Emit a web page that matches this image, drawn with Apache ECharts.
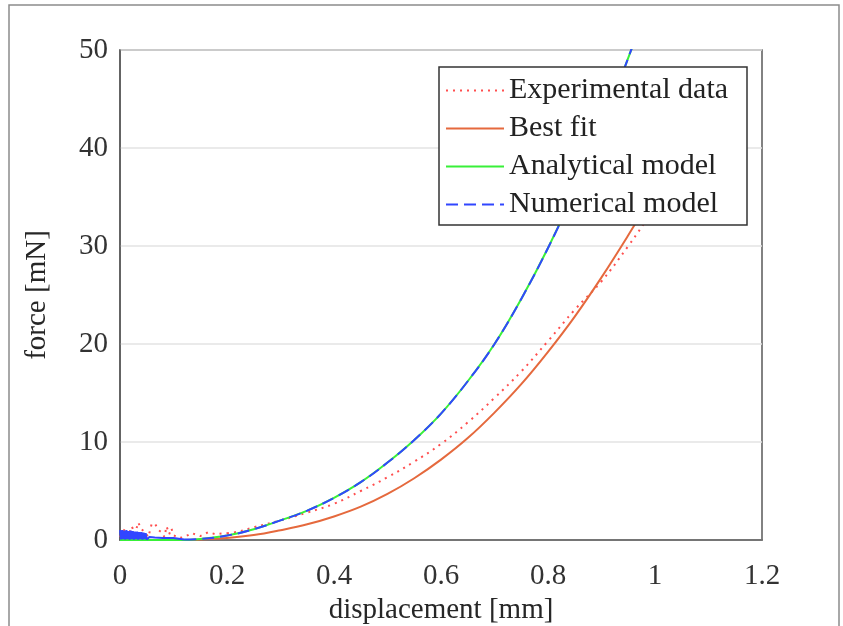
<!DOCTYPE html>
<html>
<head>
<meta charset="utf-8">
<title>force vs displacement</title>
<script src="https://cdn.jsdelivr.net/npm/echarts@6/dist/echarts.min.js"></script>
<style>
  html, body { margin: 0; padding: 0; background: #fff; }
  #chart { width: 843px; height: 626px; }
</style>
</head>
<body>
<div id="chart"></div>
<script>
  // experimental data, noisy part near zero
  const expNoiseX = [0, 0.005, 0.009, 0.015, 0.022, 0.028, 0.034, 0.04, 0.047, 0.053, 0.059, 0.065, 0.072,
    0.078, 0.083, 0.087, 0.092, 0.096, 0.1, 0.11, 0.12, 0.134, 0.15, 0.165, 0.178, 0.2]
  const expNoiseY = [0.3, 0.8, 1.1, 0.4, 1.4, 0.6, 1.8, 1.1, 0.8, 0.3, 1.6, 1.7, 1.0,
    0.8, 0.3, 1.4, 0.6, 1.2, 0.5, 0.2, 0.3, 0.7, 0.4, 0.8, 0.6, 0.7]
  // experimental data, smooth rise
  const expX = [0.2, 0.221, 0.25, 0.3, 0.35, 0.4, 0.45, 0.5, 0.55, 0.6, 0.65, 0.7, 0.75, 0.8, 0.85,
    0.9, 0.95, 1.0, 1.05]
  const expY = [0.7, 0.85, 1.3, 2.0, 2.8, 3.7, 5.0, 6.4, 8.0, 9.8, 12.0, 14.5, 17.2, 20.3, 23.5,
    26.4, 30.0, 33.9, 37.8]

  const fitX = [0.13, 0.15, 0.2, 0.25, 0.3, 0.35, 0.4, 0.45, 0.5, 0.55, 0.6, 0.65, 0.7, 0.75, 0.8, 0.85,
    0.9, 0.95, 1.0, 1.05, 1.1]
  const fitY = [0, 0.05, 0.2, 0.5, 1.0, 1.6, 2.4, 3.4, 4.7, 6.3, 8.2, 10.4, 13.0, 15.9, 19.2, 22.8,
    26.8, 31.1, 35.6, 40.5, 45.8]

  const anaX = [0, 0.05, 0.1, 0.12, 0.15, 0.2, 0.25, 0.3, 0.35, 0.4, 0.45, 0.5, 0.55, 0.6, 0.65, 0.7,
    0.75, 0.8, 0.85, 0.9, 0.95, 0.97]
  const anaY = [0, 0, 0, 0, 0.1, 0.45, 1.1, 2.0, 3.0, 4.3, 5.9, 7.9, 10.2, 12.9, 16.2, 20.0,
    24.6, 29.8, 35.6, 42.0, 49.2, 52.2]

  // numerical model, jittery block at the start
  const numNoiseX = [0, 0.002, 0.004, 0.006, 0.008, 0.01, 0.012, 0.014, 0.016, 0.018, 0.02, 0.022, 0.024,
    0.026, 0.028, 0.03, 0.032, 0.034, 0.036, 0.038, 0.04, 0.042, 0.044, 0.046, 0.048, 0.05,
    0.055, 0.065, 0.08, 0.1, 0.12]
  const numNoiseY = [1.0, 0.05, 1.0, 0.1, 0.95, 0.05, 1.0, 0.1, 0.9, 0.05, 0.95, 0.1, 0.9,
    0.05, 0.85, 0.1, 0.85, 0.05, 0.8, 0.1, 0.8, 0.05, 0.75, 0.1, 0.7, 0.05,
    0.3, 0.25, 0.2, 0.2, 0.05]
  // numerical model, smooth rise
  const numX = [0.12, 0.15, 0.2, 0.25, 0.3, 0.35, 0.4, 0.45, 0.5, 0.55, 0.6, 0.65, 0.7,
    0.75, 0.8, 0.85, 0.9, 0.95, 0.97]
  const numY = [0.05, 0.1, 0.45, 1.1, 2.0, 3.0, 4.3, 5.9, 7.9, 10.2, 12.9, 16.2, 20.0,
    24.6, 29.8, 35.6, 42.0, 49.2, 52.2]

  const seriesNames = ['Experimental data', 'Best fit', 'Analytical model', 'Numerical model']

  const pairs = (xs, ys) => xs.map((x, i) => [x, ys[i]])

  const font = 'Liberation Serif, Times New Roman, serif'
  const red = '#ff4f4f'
  const orange = '#e5693d'
  const green = '#38f038'
  const blue = '#3146ff'

  const chart = echarts.init(document.getElementById('chart'))

  chart.setOption({
    animation: false,
    backgroundColor: '#fff',
    graphic: [
      {
        type: 'rect',
        shape: { x: 9, y: 5, width: 830, height: 660 },
        style: { fill: 'none', stroke: '#8c8c8c', lineWidth: 1.5 },
        z: 100,
      },
    ],
    grid: {
      left: 120,
      right: 81,
      top: 50,
      bottom: 86,
      outerBoundsMode: 'none',
      show: true,
      borderColor: '#5a5a5a',
      borderWidth: 1.5,
    },
    legend: {
      orient: 'vertical',
      left: 439,
      top: 67,
      data: seriesNames,
      itemWidth: 58,
      itemHeight: 14,
      itemGap: 7,
      padding: [8, 8, 5, 6],
      backgroundColor: '#fff',
      borderColor: '#333',
      borderWidth: 1.5,
      itemStyle: { opacity: 0 },
      textStyle: {
        fontFamily: font,
        fontSize: 30,
        color: '#222',
        lineHeight: 31,
        width: 230,
      },
    },
    xAxis: {
      type: 'value',
      min: 0,
      max: 1.2,
      interval: 0.2,
      name: 'displacement [mm]',
      nameLocation: 'middle',
      nameGap: 54,
      nameTextStyle: { fontFamily: font, fontSize: 29, color: '#262626' },
      axisLine: { show: true, lineStyle: { color: '#5a5a5a', width: 1.5 } },
      axisTick: { show: false },
      axisLabel: {
        fontFamily: font,
        fontSize: 29,
        color: '#333',
        margin: 22,
        formatter: (v) => String(+v.toFixed(1)),
      },
      splitLine: { show: false },
    },
    yAxis: {
      type: 'value',
      min: 0,
      max: 50,
      interval: 10,
      name: 'force [mN]',
      nameLocation: 'middle',
      nameGap: 68,
      nameTextStyle: { fontFamily: font, fontSize: 29, color: '#262626' },
      axisLine: { show: true, lineStyle: { color: '#5a5a5a', width: 1.5 } },
      axisTick: { show: false },
      axisLabel: { fontFamily: font, fontSize: 29, color: '#333', margin: 12 },
      splitLine: { show: true, lineStyle: { color: '#e3e3e3', width: 1.5 } },
    },
    series: [
      {
        name: seriesNames[0],
        type: 'line',
        data: pairs(expX, expY),
        symbol: 'none',
        smooth: 0.4,
        lineStyle: { color: red, width: 2, type: [2, 5] },
        itemStyle: { color: red },
      },
      {
        name: seriesNames[1],
        type: 'line',
        data: pairs(fitX, fitY),
        symbol: 'none',
        smooth: 0.4,
        lineStyle: { color: orange, width: 2 },
        itemStyle: { color: orange },
      },
      {
        name: seriesNames[2],
        type: 'line',
        data: pairs(anaX, anaY),
        symbol: 'none',
        smooth: 0.4,
        lineStyle: { color: green, width: 2 },
        itemStyle: { color: green },
      },
      {
        name: seriesNames[3],
        type: 'line',
        data: pairs(numX, numY),
        symbol: 'none',
        smooth: 0.4,
        lineStyle: { color: blue, width: 2, type: [12, 6] },
        itemStyle: { color: blue },
      },
      {
        name: seriesNames[0],
        type: 'line',
        data: pairs(expNoiseX, expNoiseY),
        symbol: 'none',
        lineStyle: { color: red, width: 2, type: [2, 5] },
        itemStyle: { color: red },
      },
      {
        name: seriesNames[3],
        type: 'line',
        data: pairs(numNoiseX, numNoiseY),
        symbol: 'none',
        lineStyle: { color: blue, width: 2 },
        itemStyle: { color: blue },
      },
    ],
  })
</script>
</body>
</html>
